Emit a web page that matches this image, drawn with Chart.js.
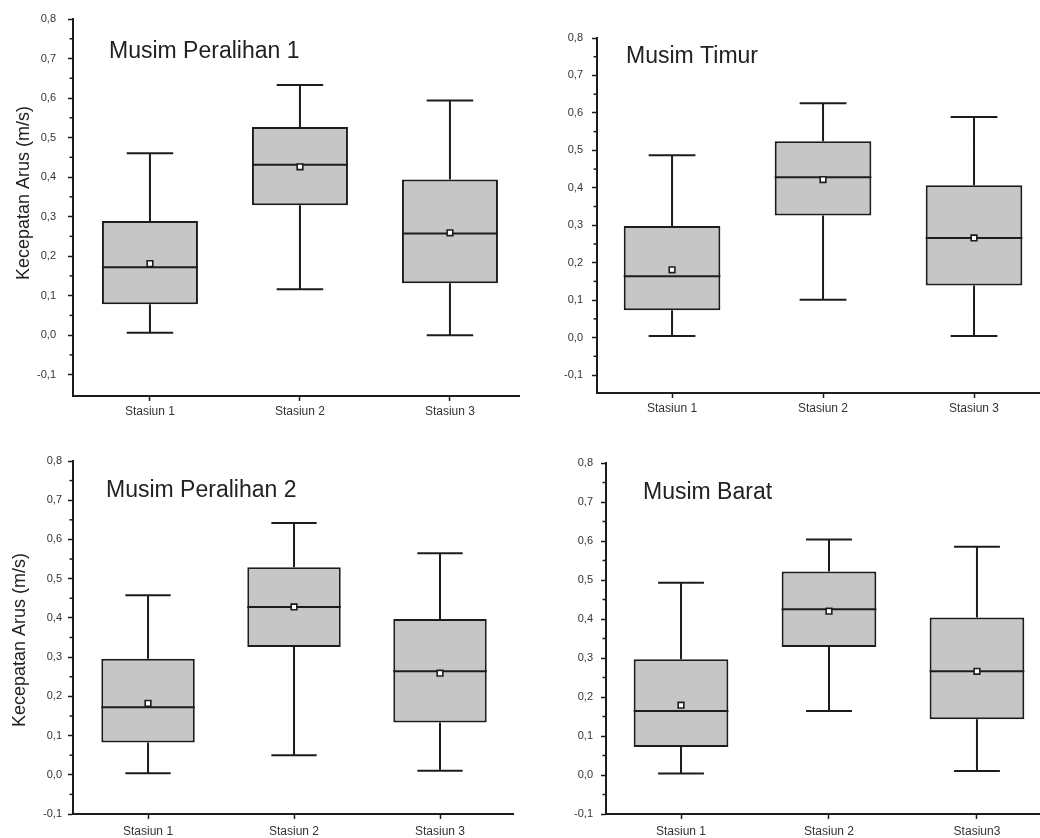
<!DOCTYPE html>
<html>
<head>
<meta charset="utf-8">
<script src="https://cdn.jsdelivr.net/npm/chart.js@4.4.1/dist/chart.umd.min.js"></script>
<style>
html, body { margin: 0; padding: 0; background: #fff; }
#wrap { position: relative; width: 1040px; height: 838px; overflow: hidden; background: #fff; }
canvas { position: absolute; }
</style>
</head>
<body>
<div id="wrap">
  <canvas id="c1" width="520" height="419" style="left:0;top:0"></canvas>
  <canvas id="c2" width="520" height="419" style="left:520px;top:0"></canvas>
  <canvas id="c3" width="520" height="419" style="left:0;top:419px"></canvas>
  <canvas id="c4" width="520" height="419" style="left:520px;top:419px"></canvas>
</div>
<script>
// ---------- DATA ----------
const stations = ['Stasiun 1', 'Stasiun 2', 'Stasiun 3'];
const stationsBarat = ['Stasiun 1', 'Stasiun 2', 'Stasiun3'];
const yTickValues = [-0.1, 0, 0.1, 0.2, 0.3, 0.4, 0.5, 0.6, 0.7, 0.8];
const yMinorTicks = [-0.05, 0.05, 0.15, 0.25, 0.35, 0.45, 0.55, 0.65, 0.75];
const yTitle = 'Kecepatan Arus (m/s)';

// Musim Peralihan 1
const p1Title = 'Musim Peralihan 1';
const p1Min    = [0.006, 0.116, 0.000];
const p1Q1     = [0.078, 0.329, 0.131];
const p1Median = [0.172, 0.431, 0.257];
const p1Q3     = [0.289, 0.527, 0.394];
const p1Max    = [0.460, 0.633, 0.594];
const p1Mean   = [0.181, 0.426, 0.259];

// Musim Timur
const p2Title = 'Musim Timur';
const p2Min    = [0.004, 0.101, 0.004];
const p2Q1     = [0.073, 0.326, 0.139];
const p2Median = [0.164, 0.428, 0.266];
const p2Q3     = [0.298, 0.524, 0.407];
const p2Max    = [0.487, 0.626, 0.589];
const p2Mean   = [0.181, 0.422, 0.266];

// Musim Peralihan 2
const p3Title = 'Musim Peralihan 2';
const p3Min    = [0.004, 0.050, 0.010];
const p3Q1     = [0.082, 0.326, 0.133];
const p3Median = [0.172, 0.428, 0.264];
const p3Q3     = [0.296, 0.529, 0.397];
const p3Max    = [0.458, 0.642, 0.565];
const p3Mean   = [0.182, 0.428, 0.259];

// Musim Barat
const p4Title = 'Musim Barat';
const p4Min    = [0.004, 0.164, 0.010];
const p4Q1     = [0.072, 0.328, 0.143];
const p4Median = [0.164, 0.425, 0.266];
const p4Q3     = [0.297, 0.522, 0.404];
const p4Max    = [0.493, 0.604, 0.585];
const p4Mean   = [0.179, 0.420, 0.266];

// ---------- STYLE / LAYOUT ----------
const INK = '#1c1c1c';
const BOX_FILL = '#c6c6c6';
const FONT = '"Liberation Sans", Arial, Helvetica, sans-serif';

const decorPlugin = {
  id: 'decor',
  afterDraw(chart, args, o) {
    const { ctx, chartArea } = chart;
    const y = chart.scales.y;
    ctx.save();
    ctx.strokeStyle = INK;
    ctx.lineWidth = 1.5;
    o.minor.forEach(v => {
      if (v < y.min || v > y.max) return;
      const py = y.getPixelForValue(v);
      ctx.beginPath();
      ctx.moveTo(chartArea.left, py);
      ctx.lineTo(chartArea.left - 3.5, py);
      ctx.stroke();
    });
    ctx.fillStyle = '#222';
    ctx.font = '23px ' + FONT;
    ctx.textAlign = 'left';
    ctx.textBaseline = 'alphabetic';
    ctx.fillText(o.title, o.titleX, o.titleY);
    if (o.yTitle) {
      ctx.translate(o.yTitleX, o.yTitleY);
      ctx.rotate(-Math.PI / 2);
      ctx.textAlign = 'center';
      ctx.textBaseline = 'middle';
      ctx.font = '18px ' + FONT;
      ctx.fillText(o.yTitle, 0, 0);
    }
    ctx.restore();
  }
};

function makeChart(id, cfg) {
  const xs = cfg.labels.map((_, i) => i + 1);
  const whiskers = [];
  const caps = [];
  xs.forEach((x, i) => {
    whiskers.push({ x, y: cfg.max[i] }, { x, y: cfg.q3[i] }, { x, y: null },
                  { x, y: cfg.q1[i] }, { x, y: cfg.min[i] }, { x, y: null });
    caps.push({ x, y: cfg.max[i] }, { x, y: cfg.min[i] });
  });
  const halfPx = (frac) => (ctx) => {
    const s = ctx.chart.scales.x;
    return Math.abs(s.getPixelForValue(1 + frac) - s.getPixelForValue(1));
  };
  const L = cfg.layout;
  return new Chart(document.getElementById(id), {
    type: 'bar',
    data: {
      datasets: [
        {
          type: 'line', label: 'mean', order: 0,
          data: xs.map((x, i) => ({ x, y: cfg.mean[i] })),
          showLine: false, pointStyle: 'rect', pointRadius: 4,
          pointBackgroundColor: '#fff', pointBorderColor: INK, pointBorderWidth: 1.6
        },
        {
          type: 'line', label: 'median', order: 1,
          data: xs.map((x, i) => ({ x, y: cfg.median[i] })),
          showLine: false, pointStyle: 'line', pointRadius: halfPx(0.32),
          pointBorderColor: INK, pointBorderWidth: 2
        },
        {
          type: 'bar', label: 'box', order: 2,
          data: xs.map((x, i) => ({ x, y: [cfg.q1[i], cfg.q3[i]] })),
          backgroundColor: BOX_FILL, borderColor: INK, borderWidth: 2,
          borderSkipped: false, barPercentage: 0.64, categoryPercentage: 1, grouped: false
        },
        {
          type: 'line', label: 'caps', order: 3,
          data: caps,
          showLine: false, pointStyle: 'line', pointRadius: halfPx(0.155),
          pointBorderColor: INK, pointBorderWidth: 2
        },
        {
          type: 'line', label: 'whisker', order: 4,
          data: whiskers, spanGaps: false,
          borderColor: INK, borderWidth: 2, pointRadius: 0, fill: false
        }
      ]
    },
    options: {
      responsive: false,
      animation: false,
      events: [],
      layout: { autoPadding: false, padding: { top: L.top, right: 520 - L.right, left: 0, bottom: 0 } },
      plugins: {
        legend: { display: false },
        tooltip: { enabled: false },
        decor: {
          minor: yMinorTicks, title: cfg.title, titleX: cfg.titleX, titleY: cfg.titleY,
          yTitle: cfg.yTitle, yTitleX: cfg.yTitleX, yTitleY: cfg.yTitleY
        }
      },
      scales: {
        x: {
          type: 'linear', min: L.xmin, max: L.xmax, offset: false,
          afterBuildTicks: s => { s.ticks = xs.map(v => ({ value: v })); },
          afterFit: s => { s.height = 419 - L.bottom; },
          ticks: {
            autoSkip: false, maxRotation: 0, minRotation: 0,
            padding: L.xPad, color: '#333', font: { family: FONT, size: 12 },
            callback: (v, i) => cfg.labels[i]
          },
          grid: { display: true, offset: false, drawOnChartArea: false, drawTicks: true, tickLength: 5, tickWidth: 1.5, tickColor: INK },
          border: { display: true, color: INK, width: 2 }
        },
        y: {
          type: 'linear', min: L.ymin, max: 0.8,
          afterBuildTicks: s => { s.ticks = yTickValues.map(v => ({ value: v })); },
          afterFit: s => { s.width = L.left; },
          ticks: {
            padding: L.yPad, color: '#333', font: { family: FONT, size: 11 },
            callback: v => v.toFixed(1).replace('.', ',')
          },
          grid: { display: true, offset: false, drawOnChartArea: false, drawTicks: true, tickLength: 5, tickWidth: 1.5, tickColor: INK },
          border: { display: true, color: INK, width: 2 }
        }
      }
    },
    plugins: [decorPlugin]
  });
}

makeChart('c1', {
  labels: stations, title: p1Title, min: p1Min, q1: p1Q1, median: p1Median, q3: p1Q3, max: p1Max, mean: p1Mean,
  titleX: 109, titleY: 58, yTitle: yTitle, yTitleX: 24, yTitleY: 193,
  layout: { left: 73, top: 19, bottom: 396, right: 520, xmin: 0.487, xmax: 3.467, ymin: -0.154, xPad: 3, yPad: 12 }
});
makeChart('c2', {
  labels: stations, title: p2Title, min: p2Min, q1: p2Q1, median: p2Median, q3: p2Q3, max: p2Max, mean: p2Mean,
  titleX: 106, titleY: 63, yTitle: null,
  layout: { left: 77, top: 38, bottom: 393, right: 520, xmin: 0.503, xmax: 3.437, ymin: -0.148, xPad: 3, yPad: 9 }
});
makeChart('c3', {
  labels: stations, title: p3Title, min: p3Min, q1: p3Q1, median: p3Median, q3: p3Q3, max: p3Max, mean: p3Mean,
  titleX: 106, titleY: 78, yTitle: yTitle, yTitleX: 20, yTitleY: 221,
  layout: { left: 73, top: 42, bottom: 395, right: 513, xmin: 0.486, xmax: 3.5, ymin: -0.1, xPad: 5, yPad: 6 }
});
makeChart('c4', {
  labels: stationsBarat, title: p4Title, min: p4Min, q1: p4Q1, median: p4Median, q3: p4Q3, max: p4Max, mean: p4Mean,
  titleX: 123, titleY: 80, yTitle: null,
  layout: { left: 86, top: 44, bottom: 395, right: 520, xmin: 0.493, xmax: 3.426, ymin: -0.1, xPad: 5, yPad: 8 }
});
</script>
</body>
</html>
